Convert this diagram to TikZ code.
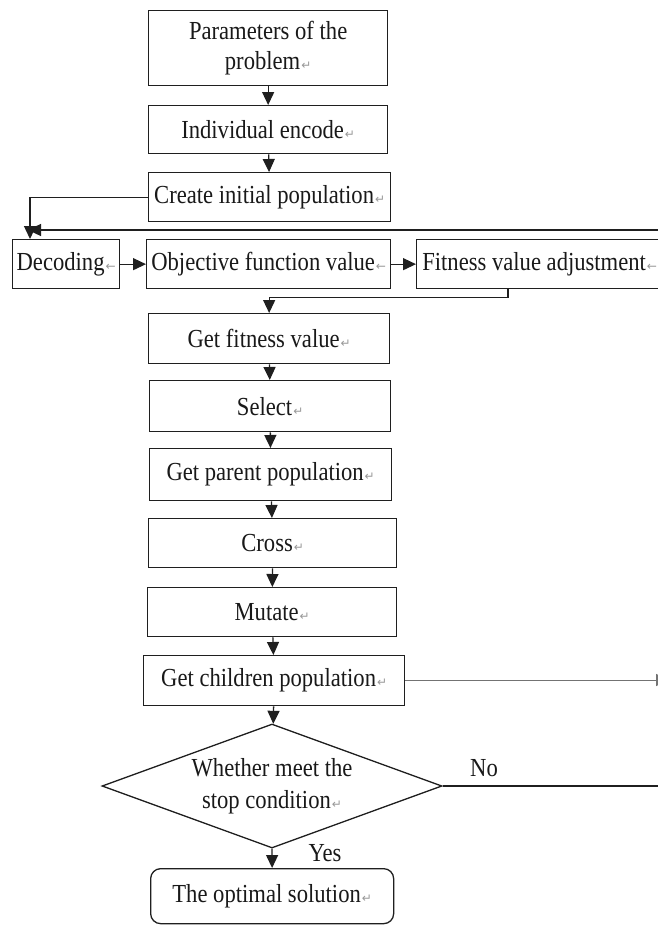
\documentclass[tikz,border=0pt]{standalone}
\usepackage{fontspec}
\setmainfont[FakeStretch=0.87]{Liberation Serif}
\newfontfamily\markfont{DejaVu Sans}
\usetikzlibrary{shapes.geometric,arrows.meta,calc}
% Word-style paragraph marks after each text
\newcommand\retmk{\hspace{1pt}{\markfont\fontsize{12}{12}\selectfont\color{black!40}↵}}
\newcommand\lftmk{\hspace{1pt}{\markfont\fontsize{12}{12}\selectfont\color{black!40}←}}

\begin{document}
\begin{tikzpicture}[x=1pt,y=-1pt,
  font=\fontsize{26}{30}\selectfont,
  stepbox/.style={draw=black!88, line width=1.3pt, rectangle, inner sep=0pt,
                  align=center, anchor=north west, text=black!90},
  endbox/.style={stepbox, rounded corners=10pt},
  testbox/.style={draw=black!88, line width=1.3pt, diamond, aspect=2.74,
                  inner sep=0pt, align=center, text=black!90,
                  minimum width=340pt, minimum height=124pt,
                  font=\fontsize{26}{32}\selectfont},
  arr/.style={draw=black!88, line width=1.3pt, -{Triangle[width=12pt,length=13pt]}},
  link/.style={draw=black!88, line width=1.3pt},
  lbl/.style={inner sep=0pt, text=black!90}]

\clip (0,0) rectangle (658,926);
\fill[white] (0,0) rectangle (658,926);

% main column
\node[stepbox, minimum width=239pt, minimum height=75pt] (params) at (148,10)
  {Parameters of the\\problem\retmk};
\node[stepbox, minimum width=239pt, minimum height=48pt] (encode) at (148,105)
  {Individual encode\retmk};
\node[stepbox, minimum width=242pt, minimum height=49pt] (create) at (148,172)
  {Create initial population\retmk};

% evaluation row
\node[stepbox, minimum width=107pt, minimum height=49pt] (decode) at (12,239)
  {Decoding\lftmk};
\node[stepbox, minimum width=244pt, minimum height=49pt] (objective) at (146,239)
  {Objective function value\lftmk};
\node[stepbox, minimum width=246pt, minimum height=49pt] (fitness) at (416,239)
  {Fitness value adjustment\lftmk};

\node[stepbox, minimum width=241pt, minimum height=50pt] (getfit) at (148,313)
  {Get fitness value\retmk};
\node[stepbox, minimum width=241pt, minimum height=51pt] (select) at (149,380)
  {Select\retmk};
\node[stepbox, minimum width=242pt, minimum height=52pt] (parent) at (149,448)
  {Get parent population\retmk};
\node[stepbox, minimum width=248pt, minimum height=49pt] (cross) at (148,518)
  {Cross\retmk};
\node[stepbox, minimum width=249pt, minimum height=49pt] (mutate) at (147,587)
  {Mutate\retmk};
\node[stepbox, minimum width=261pt, minimum height=50pt] (children) at (143,655)
  {Get children population\retmk};

\node[testbox] (stop) at (272,786)
  {Whether meet the\\stop condition\retmk};

\node[endbox, minimum width=243pt, minimum height=55pt] (optimal) at (150,868)
  {The optimal solution\retmk};

\node[lbl] (no) at (484,768) {No};
\node[lbl] (yes) at (325,853) {Yes};

% helper points for the loop lines
\coordinate (decin) at ($(decode.north west)+(18,0)$);
\coordinate (loopin) at (670,230);
\coordinate (loopend) at (28,230);
\coordinate (fitout) at ($(fitness.south west)+(92,0)$);
\coordinate (childout) at (669,680);
\coordinate (noout) at (670,786);

% connectors
\draw[arr] (params) -- (encode);
\draw[arr] (encode) -- (create);
\draw[arr] (create.west) -| (decin);
\draw[arr] (loopin) -- (loopend);
\draw[arr] (decode) -- (objective);
\draw[arr] (objective) -- (fitness);
\draw[arr] (fitout) -- ++(0,8) -| (getfit.north);
\draw[arr] (getfit) -- (select);
\draw[arr] (select) -- (parent);
\draw[arr] (parent) -- (cross);
\draw[arr] (cross) -- (mutate);
\draw[arr] (mutate) -- (children);
\draw[arr] (children) -- (stop);
\draw[arr, draw=black!55, line width=1pt] (children.east |- childout) -- (childout);
\draw[link] (stop.east) -- (noout);
\draw[arr] (stop) -- (optimal);

\end{tikzpicture}
\end{document}
